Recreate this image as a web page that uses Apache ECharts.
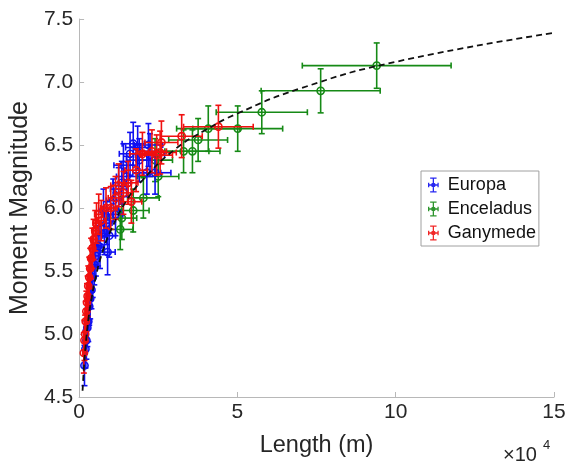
<!DOCTYPE html>
<html>
<head>
<meta charset="utf-8">
<script src="https://cdn.jsdelivr.net/npm/echarts@6/dist/echarts.min.js"></script>
<style>html,body{margin:0;padding:0;background:#fff;}#c{width:578px;height:463px;}</style>
</head>
<body>
<div id="c"></div>
<script>
// [Length (m), Moment Magnitude, length error, magnitude error]
const europa = [
  [1700,4.75,400,0.16],[2000,4.88,450,0.15],[2300,4.95,500,0.15],[2600,5.05,550,0.15],
  [2900,5.10,600,0.16],[3200,5.22,650,0.15],[3500,5.28,700,0.16],[3900,5.35,750,0.15],
  [4300,5.45,800,0.16],[4800,5.55,900,0.16],[5300,5.62,1000,0.16],[6000,5.70,1100,0.16],
  [6600,5.69,1300,0.17],[9000,5.65,2400,0.18],[7700,5.98,1500,0.17],[8700,5.88,1700,0.17],
  [8000,5.80,1600,0.17],[9500,5.78,2000,0.17],[10800,6.06,2200,0.17],[11500,5.95,2300,0.17],
  [12500,6.15,2600,0.17],[14000,6.34,3000,0.17],[13500,6.20,2800,0.17],[16100,6.43,3400,0.17],
  [17100,6.51,3500,0.17],[19000,6.38,4000,0.17],[21900,6.50,4500,0.17],[22400,6.42,4600,0.17],
  [21400,6.28,4400,0.17],[24000,6.28,5000,0.17],[18500,6.48,3800,0.17],[15000,6.25,3200,0.16]
];
const enceladus = [
  [94000,7.13,23500,0.18],[76300,6.93,18800,0.175],[57700,6.76,14400,0.17],[50100,6.63,14200,0.18],
  [35800,6.45,8700,0.17],[37600,6.54,9300,0.17],[40800,6.63,10000,0.18],[33000,6.45,8000,0.17],
  [25000,6.25,6500,0.16],[24000,6.38,5500,0.17],[20300,6.08,5000,0.16],[17100,5.98,5000,0.17],
  [13500,5.92,4700,0.17],[13000,5.83,4000,0.16]
];
const ganymede = [
  [1500,4.85,350,0.16],[1700,4.95,400,0.16],[1900,5.00,420,0.15],[2100,5.10,450,0.16],
  [2300,5.18,480,0.16],[2500,5.25,520,0.15],[2700,5.30,550,0.16],[2900,5.38,600,0.16],
  [3200,5.45,650,0.16],[3500,5.52,700,0.16],[3800,5.60,750,0.16],[4200,5.68,800,0.16],
  [4600,5.75,900,0.16],[5100,5.82,1000,0.16],[5500,5.88,1100,0.16],[6200,5.95,1300,0.16],
  [7000,5.90,1400,0.16],[8500,6.00,1700,0.16],[10000,6.00,2000,0.17],[11500,6.08,2300,0.17],
  [12500,6.18,2500,0.17],[14000,6.12,2800,0.17],[15500,6.20,3100,0.17],[16500,6.05,3300,0.17],
  [18000,6.30,3600,0.17],[20000,6.43,4000,0.17],[23000,6.45,4600,0.17],[25600,6.44,5100,0.17],
  [26000,6.52,5200,0.17],[32400,6.57,6500,0.17],[44000,6.645,11000,0.17],[24500,6.42,5000,0.16]
];
// dashed fit line
const fitLine = [
  [1100,4.55],[1500,4.72],[2000,4.89],[3000,5.13],[4000,5.29],[5000,5.42],[7000,5.62],
  [10000,5.82],[15000,6.06],[20000,6.22],[30000,6.46],[40000,6.62],[50000,6.75],
  [70000,6.95],[100000,7.16],[150000,7.39]
];
const yTicks = [4.5,5.0,5.5,6.0,6.5,7.0,7.5];
const xTicks = [0,50000,100000,150000];

const colors = {Europa:'#1010f0', Enceladus:'#168a16', Ganymede:'#f01010'};
const iconPath = 'path://M4.4 0H5.6V14H4.4Z M2 0H8V1.2H2Z M2 12.8H8V14H2Z M0 6.4H10V7.6H0Z M0 5H1.2V9H0Z M8.8 5H10V9H8.8Z M5 4.8A2.2 2.2 0 1 1 5 9.2A2.2 2.2 0 1 1 5 4.8Z';
const FONT = 'Liberation Sans, Arial, sans-serif';

function errRender(params, api){
  const L = api.value(0), M = api.value(1), dL = api.value(2), dM = api.value(3);
  const c = api.coord([L,M]);
  const l = api.coord([L-dL,M]), r = api.coord([L+dL,M]);
  const t = api.coord([L,M+dM]), b = api.coord([L,M-dM]);
  const col = api.visual('color');
  const st = {stroke: col, lineWidth: 1.6, fill: 'none'};
  const cap = 3;
  return {type:'group', children:[
    {type:'line', shape:{x1:l[0],y1:c[1],x2:r[0],y2:c[1]}, style:st},
    {type:'line', shape:{x1:l[0],y1:c[1]-cap,x2:l[0],y2:c[1]+cap}, style:st},
    {type:'line', shape:{x1:r[0],y1:c[1]-cap,x2:r[0],y2:c[1]+cap}, style:st},
    {type:'line', shape:{x1:c[0],y1:t[1],x2:c[0],y2:b[1]}, style:st},
    {type:'line', shape:{x1:c[0]-cap,y1:t[1],x2:c[0]+cap,y2:t[1]}, style:st},
    {type:'line', shape:{x1:c[0]-cap,y1:b[1],x2:c[0]+cap,y2:b[1]}, style:st},
    {type:'circle', shape:{cx:c[0],cy:c[1],r:3.6}, style:{stroke:col,lineWidth:1.6,fill:'none'}}
  ]};
}
function errSeries(name, data){
  return {type:'custom', name:name, data:data, renderItem:errRender,
    encode:{x:0,y:1}, itemStyle:{color:colors[name], opacity:0.9}, z:2};
}

const chart = echarts.init(document.getElementById('c'));
chart.setOption({
  animation:false,
  grid:{left:79, right:24, top:19, bottom:66, containLabel:false},
  xAxis:{type:'value', min:xTicks[0], max:xTicks[xTicks.length-1], interval:50000,
    axisLine:{show:true, lineStyle:{color:'#b8b8b8', width:1}},
    axisTick:{show:true, inside:true, length:5, lineStyle:{color:'#b8b8b8'}},
    splitLine:{show:false},
    axisLabel:{color:'#262626', fontSize:21, fontFamily:FONT, margin:5,
      formatter:v=>String(v/10000)},
    name:'Length (m)', nameLocation:'middle', nameGap:37,
    nameTextStyle:{color:'#262626', fontSize:23.5, fontFamily:FONT}},
  yAxis:{type:'value', min:yTicks[0], max:yTicks[yTicks.length-1], interval:0.5,
    axisLine:{show:true, lineStyle:{color:'#b8b8b8', width:1}},
    axisTick:{show:true, inside:true, length:5, lineStyle:{color:'#b8b8b8'}},
    splitLine:{show:false},
    axisLabel:{color:'#262626', fontSize:21, fontFamily:FONT, margin:6,
      formatter:v=>v.toFixed(1)},
    name:'Moment Magnitude', nameLocation:'middle', nameGap:38,
    nameTextStyle:{color:'#262626', fontSize:25, fontFamily:FONT}},
  legend:{orient:'vertical', left:421, top:171, itemWidth:11, itemHeight:15, itemGap:6,
    backgroundColor:'#fff', borderColor:'#a0a0a0', borderWidth:1, borderRadius:0,
    padding:[5,3,4,7],
    textStyle:{color:'#111', fontSize:18, fontFamily:FONT, padding:[0,0,0,4]},
    data:[
      {name:'Europa', icon:iconPath, itemStyle:{color:colors.Europa}},
      {name:'Enceladus', icon:iconPath, itemStyle:{color:colors.Enceladus}},
      {name:'Ganymede', icon:iconPath, itemStyle:{color:colors.Ganymede}}
    ]},
  graphic:[
    {type:'text', left:503, top:445, style:{text:'×10', fontSize:20, fill:'#262626', fontFamily:FONT}},
    {type:'text', left:543, top:439, style:{text:'4', fontSize:13, fill:'#262626', fontFamily:FONT}}
  ],
  series:[
    errSeries('Enceladus', enceladus),
    errSeries('Europa', europa),
    errSeries('Ganymede', ganymede),
    {type:'line', name:'fit', data:fitLine, smooth:true, showSymbol:false, z:5,
      lineStyle:{color:'#111', width:1.8, type:[6,4]}, silent:true}
  ]
});
</script>
</body>
</html>
